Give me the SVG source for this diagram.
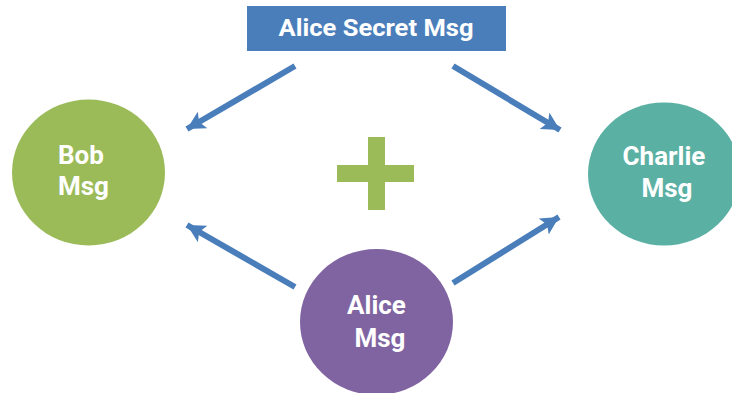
<svg xmlns="http://www.w3.org/2000/svg" width="732" height="393" viewBox="0 0 732 393">
  <style>
    .lbl { font-family: Roboto, "Liberation Sans", sans-serif; font-weight: bold; fill: #ffffff; }
    .big { font-size: 26px; }
    .title { font-size: 23px; }
    .conn { stroke: #4a7ebb; stroke-width: 6; fill: none; marker-end: url(#head); }
  </style>
  <defs>
    <marker id="head" markerUnits="userSpaceOnUse" markerWidth="22" markerHeight="22" refX="18" refY="9.5" orient="auto">
      <path d="M0,0 L18,9.5 L0,19 L4,9.5 Z" fill="#4a7ebb"/>
    </marker>
  </defs>
  <rect width="732" height="393" fill="#ffffff"/>

  <g id="connectors">
    <line class="conn" x1="295" y1="66" x2="187" y2="129"/>
    <line class="conn" x1="453" y1="66" x2="560" y2="130"/>
    <line class="conn" x1="295" y1="287" x2="187" y2="225"/>
    <line class="conn" x1="453" y1="283" x2="559" y2="217"/>
  </g>

  <g id="alice-secret">
    <rect x="247" y="6" width="259" height="45" fill="#4a7ebb"/>
    <text class="lbl title" x="376" y="36" text-anchor="middle" textLength="195" lengthAdjust="spacingAndGlyphs">Alice Secret Msg</text>
  </g>

  <g id="bob">
    <ellipse cx="88.5" cy="172.5" rx="76.5" ry="73" fill="#9bbb59"/>
    <text class="lbl big" x="58" y="164">Bob</text>
    <text class="lbl big" x="58" y="195">Msg</text>
  </g>

  <g id="charlie">
    <ellipse cx="664" cy="174" rx="76" ry="71.5" fill="#5bb0a4"/>
    <text class="lbl big" x="664" y="165" text-anchor="middle">Charlie</text>
    <text class="lbl big" x="667" y="197" text-anchor="middle">Msg</text>
  </g>

  <g id="plus">
    <rect x="368" y="137" width="17" height="73" fill="#9bbb59"/>
    <rect x="337" y="165" width="77" height="17" fill="#9bbb59"/>
  </g>

  <g id="alice">
    <ellipse cx="376.5" cy="322" rx="76.5" ry="73" fill="#8064a2"/>
    <text class="lbl big" x="376.5" y="314" text-anchor="middle">Alice</text>
    <text class="lbl big" x="380" y="347" text-anchor="middle">Msg</text>
  </g>
</svg>
